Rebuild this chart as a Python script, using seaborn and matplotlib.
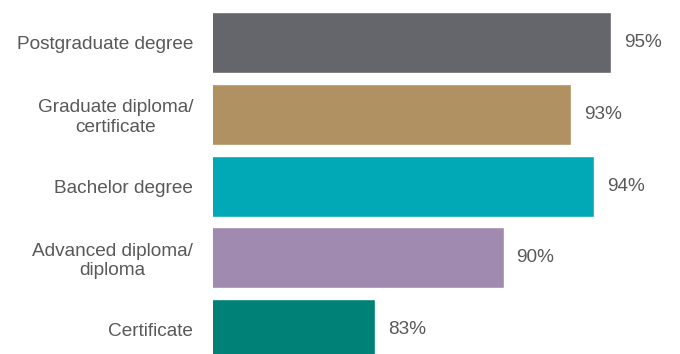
import pandas as pd
import matplotlib
matplotlib.use("Agg")
import matplotlib.pyplot as plt
import seaborn as sns

# Qualification levels and share of graduates
categories = [
    "Postgraduate degree",
    "Graduate diploma/\ncertificate",
    "Bachelor degree",
    "Advanced diploma/\ndiploma",
    "Certificate",
]
values = [95.4, 93.35, 94.55, 89.9, 83.3]
value_labels = ["95%", "93%", "94%", "90%", "83%"]
colors = ["#65666b", "#b09162", "#00a9b5", "#a08aaf", "#008177"]

df = pd.DataFrame({"Qualification": categories, "Share": values})

sns.set_style("white")
plt.rcParams["font.family"] = ["Liberation Sans", "DejaVu Sans"]
text_color = "#595959"

fig = plt.figure(figsize=(6.8, 3.54), dpi=100)
ax = fig.add_axes([213 / 680, 0, 467 / 680, 1])

sns.barplot(
    data=df, x="Share", y="Qualification", hue="Qualification",
    palette=colors, orient="h", width=0.85, legend=False, ax=ax,
    saturation=1,
)

# padding in points: 13 px at 100 dpi
for container, lab in zip(ax.containers, value_labels):
    ax.bar_label(container, labels=[lab], padding=9.4, fontsize=13.7, color=text_color)

ax.set_xlim(75, 98.95)
ax.set_ylim(4.341, -0.592)
ax.set_xlabel("")
ax.set_ylabel("")
ax.set_xticks([])
ax.tick_params(axis="y", length=0, pad=14.4, labelsize=13.7, labelcolor=text_color)
for lbl in ax.get_yticklabels():
    lbl.set_multialignment("center")
    lbl.set_linespacing(1.2)
sns.despine(ax=ax, left=True, bottom=True)

fig.savefig("out.png", dpi=100)
